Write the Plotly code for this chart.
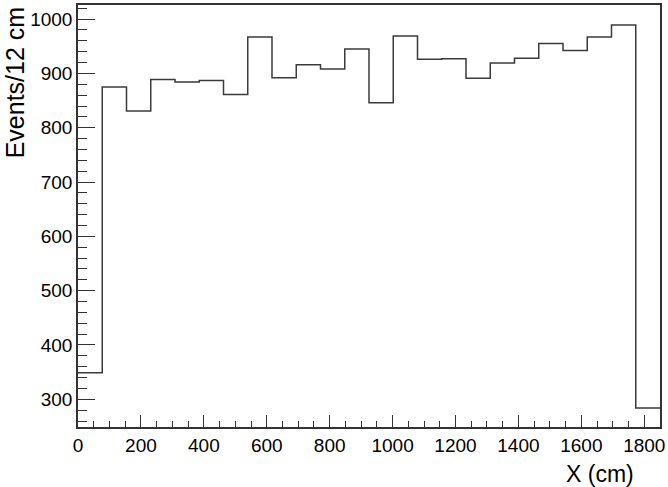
import numpy as np
import plotly.graph_objects as go

# histogram binning
X_MIN = 0
X_MAX = 1850
N_BINS = 24

# events per bin
counts = [349, 875, 831, 889, 884, 887, 861, 967, 892, 916, 908, 945,
          846, 969, 926, 927, 891, 919, 928, 955, 942, 967, 989, 284]

x_ticks = [0, 200, 400, 600, 800, 1000, 1200, 1400, 1600, 1800]
y_ticks = [300, 400, 500, 600, 700, 800, 900, 1000]

edges = np.linspace(X_MIN, X_MAX, N_BINS + 1)
step_y = counts + [counts[-1]]

FONT = 'Liberation Sans, Arial, sans-serif'

fig = go.Figure()
fig.add_trace(go.Scatter(
    x=edges, y=step_y, mode='lines', line_shape='hv',
    line=dict(color='#3a3a3a', width=1.5),
    showlegend=False, hoverinfo='skip'
))

fig.update_layout(
    width=668, height=487,
    paper_bgcolor='white', plot_bgcolor='white',
    margin=dict(l=78, r=7, t=3, b=60),
    font=dict(family=FONT, size=19, color='black'),
    xaxis=dict(
        range=[X_MIN, X_MAX], tickvals=x_ticks, showgrid=False, zeroline=False,
        showline=True, linecolor='#333333', linewidth=1.5, mirror=True,
        ticks='inside', ticklen=12, tickwidth=1, tickcolor='#333333',
        minor=dict(dtick=50, ticks='inside', ticklen=6, tickcolor='#333333', showgrid=False),
        tickfont=dict(size=19),
    ),
    yaxis=dict(
        range=[249, 1026], tickvals=y_ticks, showgrid=False, zeroline=False,
        showline=True, linecolor='#333333', linewidth=1.5, mirror=True,
        ticks='inside', ticklen=17, tickwidth=1, tickcolor='#333333',
        minor=dict(dtick=20, ticks='inside', ticklen=9, tickcolor='#333333', showgrid=False),
        tickfont=dict(size=19),
    ),
    annotations=[
        dict(text='X (cm)', xref='paper', yref='paper', x=0.959, y=-0.111,
             xanchor='right', yanchor='middle', showarrow=False, font=dict(size=23)),
        dict(text='Events/12 cm', xref='paper', yref='paper', x=-0.136, y=1.0,
             xanchor='left', yanchor='top', textangle=-90, showarrow=False, font=dict(size=25)),
    ],
)

fig.write_html("out.html", config={'displayModeBar': False},
               post_script="document.body.style.margin='0';")
